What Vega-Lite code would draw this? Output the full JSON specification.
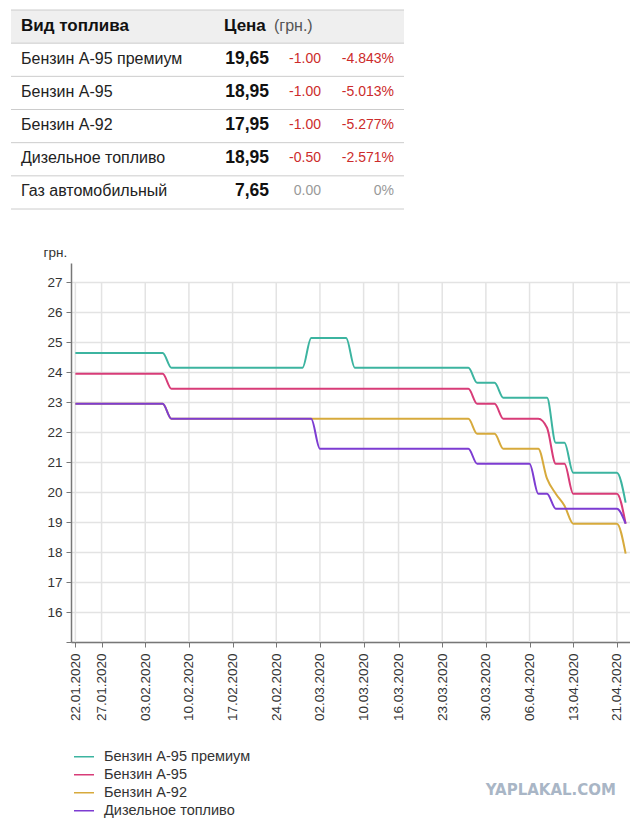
{
  "$schema": "https://vega.github.io/schema/vega-lite/v6.json",
  "padding": {"left": 10, "top": 9, "right": 0, "bottom": 0},
  "background": "white",
  "config": {
    "view": {"stroke": null},
    "font": "Liberation Sans",
    "axisY": {"labelOverlap": false, "tickCount": 13}
  },
  "spacing": 35,
  "vconcat": [
    {
      "width": 393,
      "height": 199,
      "data": {"values": [
        {"r": "Вид топлива", "p": "Цена", "u": "(грн.)", "h": 1},
        {"r": "Бензин А-95 премиум", "p": "19,65", "c": "-1.00", "q": "-4.843%", "h": 0},
        {"r": "Бензин А-95", "p": "18,95", "c": "-1.00", "q": "-5.013%", "h": 0},
        {"r": "Бензин А-92", "p": "17,95", "c": "-1.00", "q": "-5.277%", "h": 0},
        {"r": "Дизельное топливо", "p": "18,95", "c": "-0.50", "q": "-2.571%", "h": 0},
        {"r": "Газ автомобильный", "p": "7,65", "c": "0.00", "q": "0%", "h": 0}
      ]},
      "encoding": {
        "y": {"field": "r", "type": "nominal", "axis": null,
          "scale": {"domain": ["Вид топлива", "Бензин А-95 премиум", "Бензин А-95", "Бензин А-92", "Дизельное топливо", "Газ автомобильный"], "paddingInner": 0, "paddingOuter": 0}}
      },
      "layer": [
        {"transform": [{"filter": "datum.h == 1"}], "mark": {"type": "rect", "fill": "#efefef"}},
        {"mark": {"type": "rule", "stroke": "#cccccc", "strokeWidth": 1},
          "encoding": {"y": {"field": "r", "type": "nominal", "bandPosition": 0}}},
        {"transform": [{"filter": "datum.r == 'Газ автомобильный'"}], "mark": {"type": "rule", "stroke": "#cccccc", "strokeWidth": 1},
          "encoding": {"y": {"field": "r", "type": "nominal", "bandPosition": 1}}},
        {"transform": [{"filter": "datum.h == 1"}],
          "mark": {"type": "text", "align": "left", "baseline": "middle", "fontSize": 17, "fontWeight": "bold", "color": "#111111", "dy": -1},
          "encoding": {"x": {"datum": 10, "type": "quantitative", "scale": {"domain": [0, 393], "nice": false, "zero": false}, "axis": null}, "text": {"field": "r"}}},
        {"transform": [{"filter": "datum.h == 1"}],
          "mark": {"type": "text", "align": "left", "baseline": "middle", "fontSize": 17, "fontWeight": "bold", "color": "#111111", "dy": -1},
          "encoding": {"x": {"datum": 213, "type": "quantitative"}, "text": {"field": "p"}}},
        {"transform": [{"filter": "datum.h == 1"}],
          "mark": {"type": "text", "align": "left", "baseline": "middle", "fontSize": 16, "color": "#555555", "dy": -1},
          "encoding": {"x": {"datum": 263, "type": "quantitative"}, "text": {"field": "u"}}},
        {"transform": [{"filter": "datum.h == 0"}],
          "mark": {"type": "text", "align": "left", "baseline": "middle", "fontSize": 16, "color": "#222222", "dy": -1},
          "encoding": {"x": {"datum": 10, "type": "quantitative"}, "text": {"field": "r"}}},
        {"transform": [{"filter": "datum.h == 0"}],
          "mark": {"type": "text", "align": "right", "baseline": "middle", "fontSize": 17.5, "fontWeight": "bold", "color": "#111111", "dy": -1},
          "encoding": {"x": {"datum": 258, "type": "quantitative"}, "text": {"field": "p"}}},
        {"transform": [{"filter": "datum.h == 0"}],
          "mark": {"type": "text", "align": "right", "baseline": "middle", "fontSize": 14, "dy": -1},
          "encoding": {"x": {"datum": 310, "type": "quantitative"}, "text": {"field": "c"},
            "color": {"condition": {"test": "datum.c == '0.00'", "value": "#999999"}, "value": "#cc2b2b"}}},
        {"transform": [{"filter": "datum.h == 0"}],
          "mark": {"type": "text", "align": "right", "baseline": "middle", "fontSize": 14, "dy": -1},
          "encoding": {"x": {"datum": 383, "type": "quantitative"}, "text": {"field": "q"},
            "color": {"condition": {"test": "datum.c == '0.00'", "value": "#999999"}, "value": "#cc2b2b"}}}
      ]
    },
    {
      "spacing": 31,
      "hconcat": [
        {"width": 1, "height": 1, "data": {"values": [{}]}, "mark": {"type": "rect", "opacity": 0}, "encoding": {}},
        {
          "width": 559,
          "height": 379,
          "title": {"text": "YAPLAKAL.COM", "orient": "bottom", "anchor": "end", "font": "DejaVu Sans", "fontSize": 15, "fontWeight": "bold", "color": "#a9b6c6", "offset": 62, "dx": -14},
          "layer": [
            {
              "data": {"values": [
                {"d": "2020-01-22"}, {"d": "2020-01-27"}, {"d": "2020-02-03"}, {"d": "2020-02-10"}, {"d": "2020-02-17"},
                {"d": "2020-02-24"}, {"d": "2020-03-02"}, {"d": "2020-03-10"}, {"d": "2020-03-16"}, {"d": "2020-03-23"},
                {"d": "2020-03-30"}, {"d": "2020-04-06"}, {"d": "2020-04-13"}, {"d": "2020-04-21"}
              ]},
              "mark": {"type": "rule", "stroke": "#e3e3e3", "strokeWidth": 1.5},
              "encoding": {
                "x": {"field": "d", "type": "ordinal"},
                "y": {"datum": 15, "type": "quantitative", "title": "грн.",
                  "scale": {"domain": [15, 27.65], "nice": false, "zero": false},
                  "axis": {
                    "values": [15, 16, 17, 18, 19, 20, 21, 22, 23, 24, 25, 26, 27],
                    "labelExpr": "datum.value == 15 ? '' : datum.label",
                    "labelOverlap": false, "labelBound": false,
                    "grid": true, "gridColor": "#e3e3e3", "gridWidth": 1.5,
                    "tickSize": 5, "labelPadding": 4, "labelFontSize": 13.5, "labelColor": "#333333",
                    "domainColor": "#777777", "domainWidth": 1.5, "tickColor": "#777777",
                    "titleAngle": 0, "titleAlign": "left", "titleBaseline": "alphabetic", "titleX": -28, "titleY": -7,
                    "titleFontWeight": "normal", "titleFontSize": 13.5, "titleColor": "#333333"
                  }},
                "y2": {"datum": 27}
              }
            },
            {
              "data": {"values": [
                {"d": "2020-01-22", "Бензин А-95 премиум": 24.65, "Бензин А-95": 23.95, "Бензин А-92": 22.95, "Дизельное топливо": 22.95},
                {"d": "2020-01-23", "Бензин А-95 премиум": 24.65, "Бензин А-95": 23.95, "Бензин А-92": 22.95, "Дизельное топливо": 22.95},
                {"d": "2020-01-24", "Бензин А-95 премиум": 24.65, "Бензин А-95": 23.95, "Бензин А-92": 22.95, "Дизельное топливо": 22.95},
                {"d": "2020-01-27", "Бензин А-95 премиум": 24.65, "Бензин А-95": 23.95, "Бензин А-92": 22.95, "Дизельное топливо": 22.95},
                {"d": "2020-01-28", "Бензин А-95 премиум": 24.65, "Бензин А-95": 23.95, "Бензин А-92": 22.95, "Дизельное топливо": 22.95},
                {"d": "2020-01-29", "Бензин А-95 премиум": 24.65, "Бензин А-95": 23.95, "Бензин А-92": 22.95, "Дизельное топливо": 22.95},
                {"d": "2020-01-30", "Бензин А-95 премиум": 24.65, "Бензин А-95": 23.95, "Бензин А-92": 22.95, "Дизельное топливо": 22.95},
                {"d": "2020-01-31", "Бензин А-95 премиум": 24.65, "Бензин А-95": 23.95, "Бензин А-92": 22.95, "Дизельное топливо": 22.95},
                {"d": "2020-02-03", "Бензин А-95 премиум": 24.65, "Бензин А-95": 23.95, "Бензин А-92": 22.95, "Дизельное топливо": 22.95},
                {"d": "2020-02-04", "Бензин А-95 премиум": 24.65, "Бензин А-95": 23.95, "Бензин А-92": 22.95, "Дизельное топливо": 22.95},
                {"d": "2020-02-05", "Бензин А-95 премиум": 24.65, "Бензин А-95": 23.95, "Бензин А-92": 22.95, "Дизельное топливо": 22.95},
                {"d": "2020-02-06", "Бензин А-95 премиум": 24.15, "Бензин А-95": 23.45, "Бензин А-92": 22.45, "Дизельное топливо": 22.45},
                {"d": "2020-02-07", "Бензин А-95 премиум": 24.15, "Бензин А-95": 23.45, "Бензин А-92": 22.45, "Дизельное топливо": 22.45},
                {"d": "2020-02-10", "Бензин А-95 премиум": 24.15, "Бензин А-95": 23.45, "Бензин А-92": 22.45, "Дизельное топливо": 22.45},
                {"d": "2020-02-11", "Бензин А-95 премиум": 24.15, "Бензин А-95": 23.45, "Бензин А-92": 22.45, "Дизельное топливо": 22.45},
                {"d": "2020-02-12", "Бензин А-95 премиум": 24.15, "Бензин А-95": 23.45, "Бензин А-92": 22.45, "Дизельное топливо": 22.45},
                {"d": "2020-02-13", "Бензин А-95 премиум": 24.15, "Бензин А-95": 23.45, "Бензин А-92": 22.45, "Дизельное топливо": 22.45},
                {"d": "2020-02-14", "Бензин А-95 премиум": 24.15, "Бензин А-95": 23.45, "Бензин А-92": 22.45, "Дизельное топливо": 22.45},
                {"d": "2020-02-17", "Бензин А-95 премиум": 24.15, "Бензин А-95": 23.45, "Бензин А-92": 22.45, "Дизельное топливо": 22.45},
                {"d": "2020-02-18", "Бензин А-95 премиум": 24.15, "Бензин А-95": 23.45, "Бензин А-92": 22.45, "Дизельное топливо": 22.45},
                {"d": "2020-02-19", "Бензин А-95 премиум": 24.15, "Бензин А-95": 23.45, "Бензин А-92": 22.45, "Дизельное топливо": 22.45},
                {"d": "2020-02-20", "Бензин А-95 премиум": 24.15, "Бензин А-95": 23.45, "Бензин А-92": 22.45, "Дизельное топливо": 22.45},
                {"d": "2020-02-21", "Бензин А-95 премиум": 24.15, "Бензин А-95": 23.45, "Бензин А-92": 22.45, "Дизельное топливо": 22.45},
                {"d": "2020-02-24", "Бензин А-95 премиум": 24.15, "Бензин А-95": 23.45, "Бензин А-92": 22.45, "Дизельное топливо": 22.45},
                {"d": "2020-02-25", "Бензин А-95 премиум": 24.15, "Бензин А-95": 23.45, "Бензин А-92": 22.45, "Дизельное топливо": 22.45},
                {"d": "2020-02-26", "Бензин А-95 премиум": 24.15, "Бензин А-95": 23.45, "Бензин А-92": 22.45, "Дизельное топливо": 22.45},
                {"d": "2020-02-27", "Бензин А-95 премиум": 24.15, "Бензин А-95": 23.45, "Бензин А-92": 22.45, "Дизельное топливо": 22.45},
                {"d": "2020-02-28", "Бензин А-95 премиум": 25.15, "Бензин А-95": 23.45, "Бензин А-92": 22.45, "Дизельное топливо": 22.45},
                {"d": "2020-03-02", "Бензин А-95 премиум": 25.15, "Бензин А-95": 23.45, "Бензин А-92": 22.45, "Дизельное топливо": 21.45},
                {"d": "2020-03-03", "Бензин А-95 премиум": 25.15, "Бензин А-95": 23.45, "Бензин А-92": 22.45, "Дизельное топливо": 21.45},
                {"d": "2020-03-04", "Бензин А-95 премиум": 25.15, "Бензин А-95": 23.45, "Бензин А-92": 22.45, "Дизельное топливо": 21.45},
                {"d": "2020-03-05", "Бензин А-95 премиум": 25.15, "Бензин А-95": 23.45, "Бензин А-92": 22.45, "Дизельное топливо": 21.45},
                {"d": "2020-03-06", "Бензин А-95 премиум": 24.15, "Бензин А-95": 23.45, "Бензин А-92": 22.45, "Дизельное топливо": 21.45},
                {"d": "2020-03-10", "Бензин А-95 премиум": 24.15, "Бензин А-95": 23.45, "Бензин А-92": 22.45, "Дизельное топливо": 21.45},
                {"d": "2020-03-11", "Бензин А-95 премиум": 24.15, "Бензин А-95": 23.45, "Бензин А-92": 22.45, "Дизельное топливо": 21.45},
                {"d": "2020-03-12", "Бензин А-95 премиум": 24.15, "Бензин А-95": 23.45, "Бензин А-92": 22.45, "Дизельное топливо": 21.45},
                {"d": "2020-03-13", "Бензин А-95 премиум": 24.15, "Бензин А-95": 23.45, "Бензин А-92": 22.45, "Дизельное топливо": 21.45},
                {"d": "2020-03-16", "Бензин А-95 премиум": 24.15, "Бензин А-95": 23.45, "Бензин А-92": 22.45, "Дизельное топливо": 21.45},
                {"d": "2020-03-17", "Бензин А-95 премиум": 24.15, "Бензин А-95": 23.45, "Бензин А-92": 22.45, "Дизельное топливо": 21.45},
                {"d": "2020-03-18", "Бензин А-95 премиум": 24.15, "Бензин А-95": 23.45, "Бензин А-92": 22.45, "Дизельное топливо": 21.45},
                {"d": "2020-03-19", "Бензин А-95 премиум": 24.15, "Бензин А-95": 23.45, "Бензин А-92": 22.45, "Дизельное топливо": 21.45},
                {"d": "2020-03-20", "Бензин А-95 премиум": 24.15, "Бензин А-95": 23.45, "Бензин А-92": 22.45, "Дизельное топливо": 21.45},
                {"d": "2020-03-23", "Бензин А-95 премиум": 24.15, "Бензин А-95": 23.45, "Бензин А-92": 22.45, "Дизельное топливо": 21.45},
                {"d": "2020-03-24", "Бензин А-95 премиум": 24.15, "Бензин А-95": 23.45, "Бензин А-92": 22.45, "Дизельное топливо": 21.45},
                {"d": "2020-03-25", "Бензин А-95 премиум": 24.15, "Бензин А-95": 23.45, "Бензин А-92": 22.45, "Дизельное топливо": 21.45},
                {"d": "2020-03-26", "Бензин А-95 премиум": 24.15, "Бензин А-95": 23.45, "Бензин А-92": 22.45, "Дизельное топливо": 21.45},
                {"d": "2020-03-27", "Бензин А-95 премиум": 23.65, "Бензин А-95": 22.95, "Бензин А-92": 21.95, "Дизельное топливо": 20.95},
                {"d": "2020-03-30", "Бензин А-95 премиум": 23.65, "Бензин А-95": 22.95, "Бензин А-92": 21.95, "Дизельное топливо": 20.95},
                {"d": "2020-03-31", "Бензин А-95 премиум": 23.65, "Бензин А-95": 22.95, "Бензин А-92": 21.95, "Дизельное топливо": 20.95},
                {"d": "2020-04-01", "Бензин А-95 премиум": 23.15, "Бензин А-95": 22.45, "Бензин А-92": 21.45, "Дизельное топливо": 20.95},
                {"d": "2020-04-02", "Бензин А-95 премиум": 23.15, "Бензин А-95": 22.45, "Бензин А-92": 21.45, "Дизельное топливо": 20.95},
                {"d": "2020-04-03", "Бензин А-95 премиум": 23.15, "Бензин А-95": 22.45, "Бензин А-92": 21.45, "Дизельное топливо": 20.95},
                {"d": "2020-04-06", "Бензин А-95 премиум": 23.15, "Бензин А-95": 22.45, "Бензин А-92": 21.45, "Дизельное топливо": 20.95},
                {"d": "2020-04-07", "Бензин А-95 премиум": 23.15, "Бензин А-95": 22.45, "Бензин А-92": 21.45, "Дизельное топливо": 19.95},
                {"d": "2020-04-08", "Бензин А-95 премиум": 23.15, "Бензин А-95": 22.15, "Бензин А-92": 20.45, "Дизельное топливо": 19.95},
                {"d": "2020-04-09", "Бензин А-95 премиум": 21.65, "Бензин А-95": 20.95, "Бензин А-92": 19.95, "Дизельное топливо": 19.45},
                {"d": "2020-04-10", "Бензин А-95 премиум": 21.65, "Бензин А-95": 20.95, "Бензин А-92": 19.55, "Дизельное топливо": 19.45},
                {"d": "2020-04-13", "Бензин А-95 премиум": 20.65, "Бензин А-95": 19.95, "Бензин А-92": 18.95, "Дизельное топливо": 19.45},
                {"d": "2020-04-14", "Бензин А-95 премиум": 20.65, "Бензин А-95": 19.95, "Бензин А-92": 18.95, "Дизельное топливо": 19.45},
                {"d": "2020-04-15", "Бензин А-95 премиум": 20.65, "Бензин А-95": 19.95, "Бензин А-92": 18.95, "Дизельное топливо": 19.45},
                {"d": "2020-04-16", "Бензин А-95 премиум": 20.65, "Бензин А-95": 19.95, "Бензин А-92": 18.95, "Дизельное топливо": 19.45},
                {"d": "2020-04-17", "Бензин А-95 премиум": 20.65, "Бензин А-95": 19.95, "Бензин А-92": 18.95, "Дизельное топливо": 19.45},
                {"d": "2020-04-21", "Бензин А-95 премиум": 20.65, "Бензин А-95": 19.95, "Бензин А-92": 18.95, "Дизельное топливо": 19.45},
                {"d": "2020-04-22", "Бензин А-95 премиум": 19.65, "Бензин А-95": 18.95, "Бензин А-92": 17.95, "Дизельное топливо": 18.95}
              ]},
              "transform": [{"fold": ["Бензин А-95 премиум", "Бензин А-95", "Бензин А-92", "Дизельное топливо"], "as": ["fuel", "price"]}],
              "mark": {"type": "line", "interpolate": "monotone", "strokeWidth": 2},
              "encoding": {
                "x": {"field": "d", "type": "ordinal",
                  "scale": {"type": "point", "padding": 0.5},
                  "axis": {
                    "values": ["2020-01-22", "2020-01-27", "2020-02-03", "2020-02-10", "2020-02-17", "2020-02-24", "2020-03-02", "2020-03-10", "2020-03-16", "2020-03-23", "2020-03-30", "2020-04-06", "2020-04-13", "2020-04-21"],
                    "labelExpr": "substring(datum.value, 8, 10) + '.' + substring(datum.value, 5, 7) + '.' + substring(datum.value, 0, 4)",
                    "labelAngle": 270, "grid": false, "title": null, "tickSize": 5, "labelPadding": 6,
                    "labelFontSize": 13.5, "labelColor": "#333333", "domainColor": "#777777", "domainWidth": 1.5, "tickColor": "#777777", "labelOverlap": false
                  }},
                "y": {"field": "price", "type": "quantitative", "title": "грн.",
                  "scale": {"domain": [15, 27.65], "nice": false, "zero": false},
                  "axis": {
                    "values": [15, 16, 17, 18, 19, 20, 21, 22, 23, 24, 25, 26, 27],
                    "labelExpr": "datum.value == 15 ? '' : datum.label",
                    "labelOverlap": false, "labelBound": false,
                    "grid": true, "gridColor": "#e3e3e3", "gridWidth": 1.5,
                    "tickSize": 5, "labelPadding": 4, "labelFontSize": 13.5, "labelColor": "#333333",
                    "domainColor": "#777777", "domainWidth": 1.5, "tickColor": "#777777",
                    "titleAngle": 0, "titleAlign": "left", "titleBaseline": "alphabetic", "titleX": -28, "titleY": -7,
                    "titleFontWeight": "normal", "titleFontSize": 13.5, "titleColor": "#333333"
                  }},
                "color": {"field": "fuel", "type": "nominal",
                  "scale": {"domain": ["Бензин А-95 премиум", "Бензин А-95", "Бензин А-92", "Дизельное топливо"], "range": ["#3cb4a0", "#d83c78", "#d7aa3c", "#7d3cd2"]},
                  "legend": {"orient": "none", "legendX": 62, "legendY": 738, "title": null, "direction": "vertical",
                    "symbolType": "stroke", "symbolSize": 400, "symbolStrokeWidth": 1.5, "clipHeight": 17.5, "rowPadding": 0,
                    "labelFontSize": 14.5, "labelColor": "#333333", "labelOffset": 9}}
              }
            }
          ]
        }
      ]
    }
  ]
}
